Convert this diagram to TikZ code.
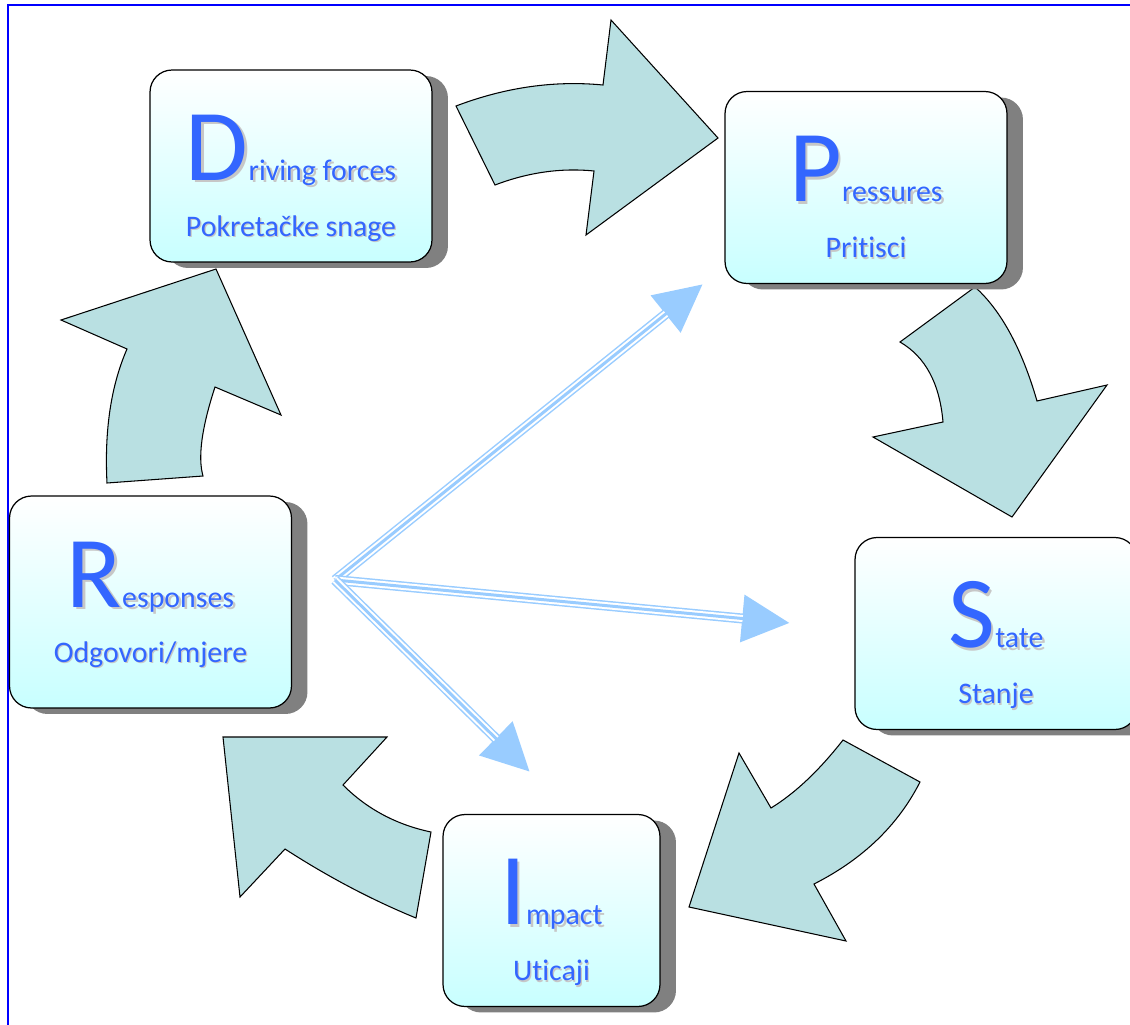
\documentclass[tikz,border=0pt]{standalone}
\usepackage{fontspec}
\setmainfont{Carlito}[Ligatures=NoCommon]
\usetikzlibrary{arrows.meta,shadows,calc}

\definecolor{labelblue}{RGB}{51,102,255}
\definecolor{boxcyan}{RGB}{200,255,255}
\definecolor{bentfill}{RGB}{185,224,226}
\definecolor{linkblue}{RGB}{153,204,255}
\definecolor{frameblue}{RGB}{0,0,255}

\newcommand\bigini[1]{{\fontsize{58}{60}\selectfont #1}}

\tikzset{
  stagebox/.style={rectangle, rounded corners=0.44cm, draw=black, line width=0.7pt,
    top color=white, bottom color=boxcyan, minimum width=5.64cm, minimum height=3.84cm,
    inner sep=0pt, drop shadow={shadow xshift=0.32cm, shadow yshift=-0.12cm, fill=gray, opacity=1}},
  tagtext/.style={text=labelblue, anchor=base, inner sep=0pt, font=\fontsize{17}{20}\selectfont},
  tagshade/.style={tagtext, text=black!22},
  bent/.style={draw=black, fill=bentfill, line width=0.6pt, line join=miter},
  link/.style={draw=linkblue, line width=5.7pt, -{Triangle[length=0.96cm, width=0.9cm]},
    postaction={draw=white, line width=4pt, -, shorten >=0.95cm},
    postaction={draw=linkblue, line width=1.7pt, -, shorten >=0.9cm}}
}

\begin{document}
\begin{tikzpicture}[x=0.02cm, y=-0.02cm]
\useasboundingbox (0,0) rectangle (1130,1025);
\draw[frameblue, line width=1.1pt] (8,1025) -- (8,5) -- (1130,5);

% curved block arrows
\draw[bent] (456,106) .. controls (505.3,87.3) and (554.3,80.3) .. (603,85) -- (611,20) -- (718,138) -- (586,235) -- (594,171) .. controls (561.3,167.7) and (528.3,172.3) .. (495,185) -- cycle;
\draw[bent] (975,287) .. controls (1001,310.3) and (1021.7,348.3) .. (1037,401) -- (1107,385) -- (1012,517) -- (873,437) -- (943,422) .. controls (939.7,383.3) and (925.3,356.7) .. (900,342) -- cycle;
\draw[bent] (920,782) .. controls (898,825.3) and (862.7,859.3) .. (814,884) -- (846,941) -- (689,907) -- (739,753) -- (771,808) .. controls (795,793.3) and (819,770.7) .. (843,740) -- cycle;
\draw[bent] (416,918) .. controls (372,900) and (328.3,877) .. (285,849) -- (240,897) -- (223,737) -- (387,737) -- (343,785) .. controls (367,809) and (396.3,824.7) .. (431,832) -- cycle;
\draw[bent] (203,476) .. controls (197.7,457.3) and (201.7,427.7) .. (215,387) -- (281,415) -- (216,269) -- (61,320) -- (127,349) .. controls (111,385.7) and (104.3,430.3) .. (107,483) -- cycle;

% boxes
\node[stagebox] (drv) at (291,166) {};
\node[stagebox] (prs) at (866,187.5) {};
\node[stagebox] (stt) at (996,633.5) {};
\node[stagebox, minimum width=4.34cm] (imp) at (551.5,910.5) {};
\node[stagebox, minimum height=4.24cm] (rsp) at (150.5,602) {};

% labels
\node[tagshade] (drv1s) at ($(drv.north)+(2.5,113.5)$) {\bigini{D}riving forces};
\node[tagtext] (drv1) at ($(drv.north)+(0,111)$) {\bigini{D}riving forces};
\node[tagshade] (drv2s) at ($(drv.north)+(1.2,168.2)$) {Pokretačke snage};
\node[tagtext] (drv2) at ($(drv.north)+(0,167)$) {Pokretačke snage};

\node[tagshade] (prs1s) at ($(prs.north)+(2.5,113.5)$) {\bigini{P}ressures};
\node[tagtext] (prs1) at ($(prs.north)+(0,111)$) {\bigini{P}ressures};
\node[tagshade] (prs2s) at ($(prs.north)+(1.2,168.2)$) {Pritisci};
\node[tagtext] (prs2) at ($(prs.north)+(0,167)$) {Pritisci};

\node[tagshade] (stt1s) at ($(stt.north)+(2.5,113.5)$) {\bigini{S}tate};
\node[tagtext] (stt1) at ($(stt.north)+(0,111)$) {\bigini{S}tate};
\node[tagshade] (stt2s) at ($(stt.north)+(1.2,168.2)$) {Stanje};
\node[tagtext] (stt2) at ($(stt.north)+(0,167)$) {Stanje};

\node[tagshade] (imp1s) at ($(imp.north)+(2.5,113.5)$) {\bigini{I}mpact};
\node[tagtext] (imp1) at ($(imp.north)+(0,111)$) {\bigini{I}mpact};
\node[tagshade] (imp2s) at ($(imp.north)+(1.2,168.2)$) {Uticaji};
\node[tagtext] (imp2) at ($(imp.north)+(0,167)$) {Uticaji};

\node[tagshade] (rsp1s) at ($(rsp.north)+(2.5,114.5)$) {\bigini{R}esponses};
\node[tagtext] (rsp1) at ($(rsp.north)+(0,112)$) {\bigini{R}esponses};
\node[tagshade] (rsp2s) at ($(rsp.north)+(1.2,168.2)$) {Odgovori/mjere};
\node[tagtext] (rsp2) at ($(rsp.north)+(0,167)$) {Odgovori/mjere};

% links from responses
\coordinate (fan) at (335,580);
\coordinate (toP) at (703,284);
\coordinate (toS) at (790,623);
\coordinate (toI) at (530,772);
\draw[link] (fan) -- (toP);
\draw[link] (fan) -- (toS);
\draw[link] (fan) -- (toI);
\end{tikzpicture}
\end{document}
